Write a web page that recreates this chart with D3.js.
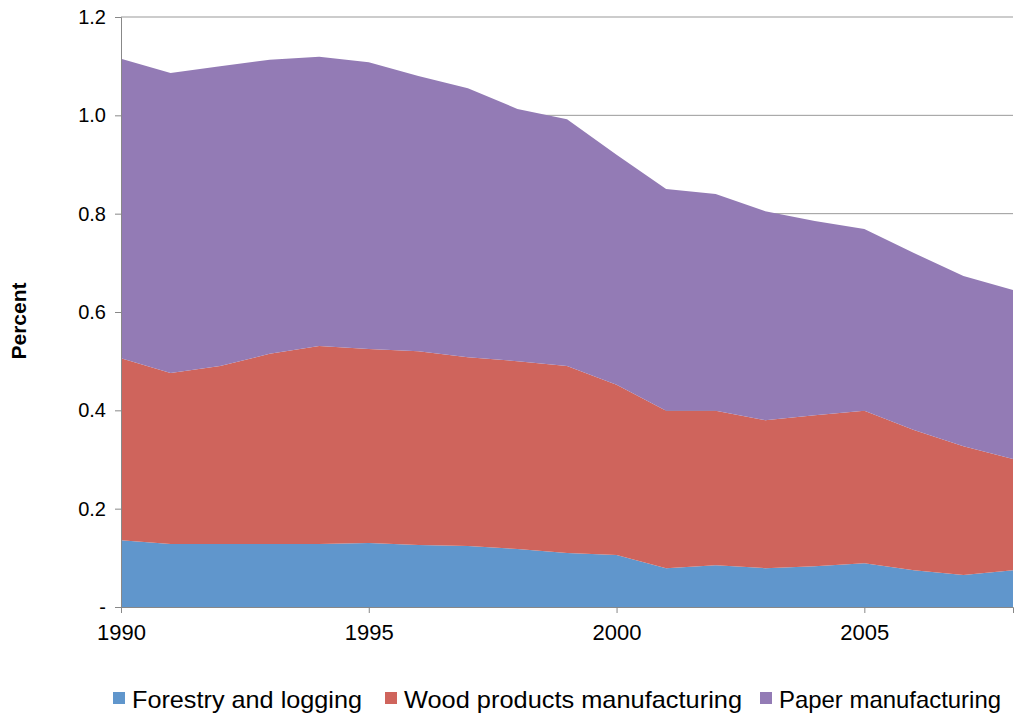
<!DOCTYPE html>
<html><head><meta charset="utf-8">
<script src="https://cdn.jsdelivr.net/npm/d3@7"></script>
<style>body{margin:0;background:#fff;font-family:Arial,"Liberation Sans",sans-serif}</style>
</head><body><svg id="c" width="1018" height="721"></svg>
<script>
const years = d3.range(1990, 2009);
const forestry = [0.136,0.128,0.128,0.128,0.128,0.130,0.126,0.124,0.118,0.110,0.106,0.079,0.085,0.079,0.083,0.089,0.075,0.065,0.075];
const woodTop = [0.506,0.476,0.490,0.515,0.531,0.525,0.520,0.508,0.500,0.490,0.452,0.399,0.399,0.380,0.390,0.399,0.360,0.327,0.301];
const totalTop = [1.115,1.086,1.100,1.113,1.119,1.108,1.080,1.055,1.013,0.992,0.920,0.850,0.840,0.805,0.785,0.769,0.720,0.673,0.645];
const seriesNames = ["Forestry and logging","Wood products manufacturing","Paper manufacturing"];
const colors = ["#6096cc","#cf645c","#937bb5"];
const yTicks = [0,0.2,0.4,0.6,0.8,1.0,1.2];
const xTicks = [1990,1995,2000,2005];

const rows = years.map((y,i)=>({year:y, f:forestry[i], w:woodTop[i]-forestry[i], p:totalTop[i]-woodTop[i]}));
const stack = d3.stack().keys(["f","w","p"])(rows);
const svg = d3.select("#c");
const x = d3.scaleLinear().domain([1990,2008]).range([121,1013]);
const y = d3.scaleLinear().domain([0,1.2]).range([607,17]);

svg.append("g").selectAll("line").data(yTicks.slice(1)).join("line")
  .attr("x1",121).attr("x2",1013).attr("y1",d=>y(d)).attr("y2",d=>y(d)).attr("stroke","#999").attr("stroke-width",1);
const area = d3.area().x(d=>x(d.data.year)).y0(d=>y(d[0])).y1(d=>y(d[1]));
svg.append("g").selectAll("path").data(stack).join("path").attr("d",area).attr("fill",(d,i)=>colors[i]);

const ya = svg.append("g").attr("transform","translate(121,0)")
  .call(d3.axisLeft(y).tickValues(yTicks).tickSize(6).tickFormat(d=>d===0?"-":d3.format(".1f")(d)));
ya.attr("font-size",null).attr("font-family",null);
ya.selectAll("text").style("font-size","20px").attr("fill","#000").attr("dx",-6);
ya.select(".domain").attr("stroke","#888");
ya.selectAll(".tick line").attr("stroke","#888");
const xa = svg.append("g").attr("transform","translate(0,607)")
  .call(d3.axisBottom(x).tickValues(xTicks).tickSize(6).tickFormat(d3.format("d")));
xa.attr("font-size",null).attr("font-family",null);
xa.selectAll("text").style("font-size","22px").attr("fill","#000").attr("dy",24);
xa.select(".domain").attr("stroke","#888");
xa.selectAll(".tick line").attr("stroke","#888");

svg.append("text").attr("transform","translate(26,321) rotate(-90)").attr("text-anchor","middle")
  .style("font-size","21px").attr("font-weight","bold").text("Percent");

const lg = svg.append("g").style("font-size","24px");
const lx = [113,385,760];
const lw = [230,338,222];
seriesNames.forEach((n,i)=>{
  lg.append("rect").attr("x",lx[i]).attr("y",692).attr("width",12).attr("height",12).attr("fill",colors[i]);
  lg.append("text").attr("x",lx[i]+19).attr("y",708).attr("textLength",lw[i]).attr("lengthAdjust","spacingAndGlyphs").text(n);
});
</script></body></html>
